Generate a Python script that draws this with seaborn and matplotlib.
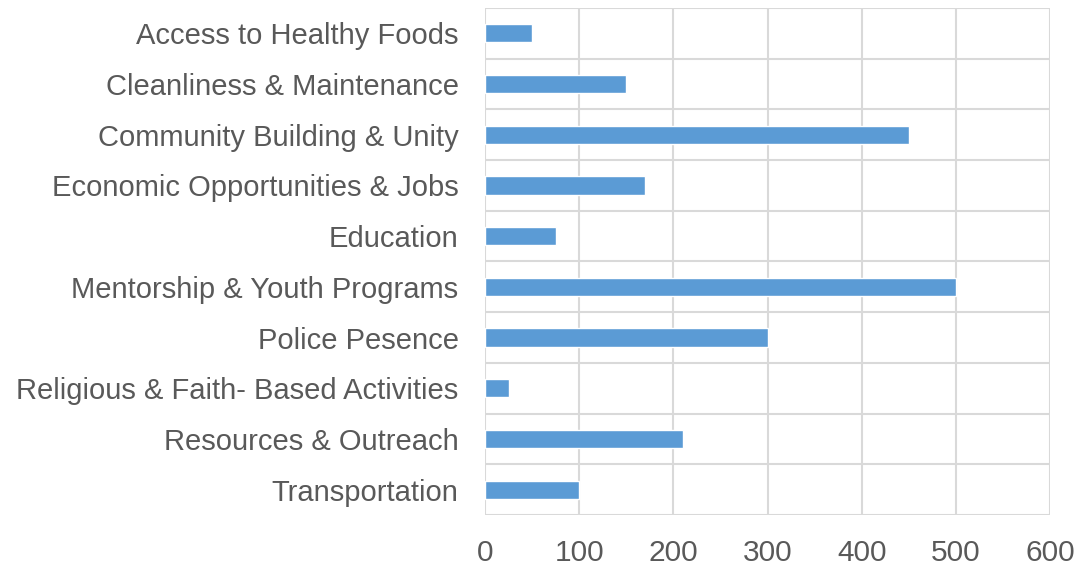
import matplotlib
matplotlib.use("Agg")
import matplotlib.pyplot as plt
import seaborn as sns
import pandas as pd

categories = [
    "Access to Healthy Foods",
    "Cleanliness & Maintenance",
    "Community Building & Unity",
    "Economic Opportunities & Jobs",
    "Education",
    "Mentorship & Youth Programs",
    "Police Pesence",
    "Religious & Faith- Based Activities",
    "Resources & Outreach",
    "Transportation",
]
values = [50, 150, 450, 170, 75, 500, 300, 25, 210, 100]
xticks = [0, 100, 200, 300, 400, 500, 600]

sns.set_theme(style="white")
plt.rcParams['font.family'] = ['Liberation Sans', 'DejaVu Sans']

df = pd.DataFrame({"cat": categories, "val": values})

fig = plt.figure(figsize=(10.81, 5.68), dpi=100)
ax = fig.add_axes([485/1081, 1-515/568, (1050-485)/1081, (515-8)/568])

sns.barplot(data=df, x="val", y="cat", orient="h", color="#5B9BD5",
            width=0.36, saturation=1, ax=ax)

ax.set_xlim(0, 600)
ax.set_ylim(len(categories)-0.5, -0.5)
ax.set_xticks(xticks)
ax.set_xticklabels([str(t) for t in xticks], fontsize=21.5, color="#595959")
ax.set_yticks(range(len(categories)))
ax.set_yticklabels(categories, fontsize=21, color="#595959")
ax.set_xlabel("")
ax.set_ylabel("")

grid_c = "#d9d9d9"
for t in xticks:
    ax.axvline(t, color=grid_c, lw=1.5, zorder=0)
for i in range(len(categories)+1):
    ax.axhline(i-0.5, color=grid_c, lw=1.5, zorder=0)
for s in ax.spines.values():
    s.set_visible(False)
ax.tick_params(axis="both", length=0)
ax.tick_params(axis="y", pad=19)
ax.tick_params(axis="x", pad=17)

fig.savefig("out.png", dpi=100)
